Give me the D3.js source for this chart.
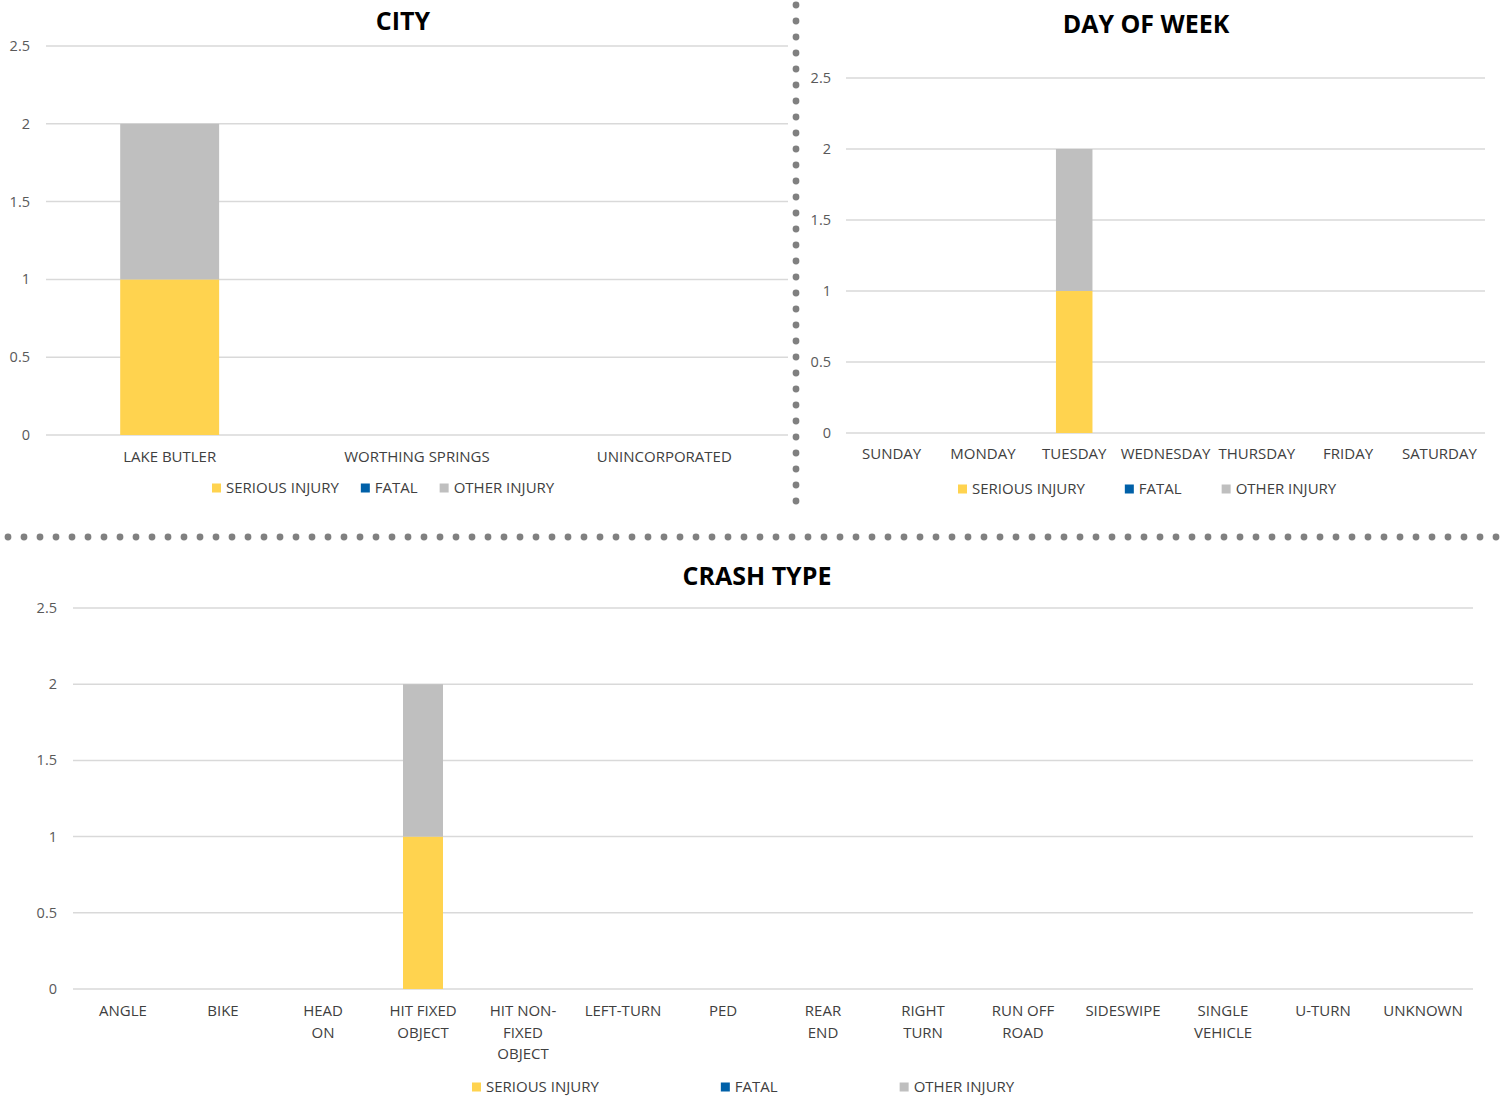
<!DOCTYPE html>
<html>
<head>
<meta charset="utf-8">
<script src="https://cdn.jsdelivr.net/npm/d3@7"></script>
<style>
  body { margin: 0; background: #fff; }
  svg text { font-family: "Open Sans", "Liberation Sans", sans-serif; }
</style>
</head>
<body>
<div id="my_dataviz"></div>
<script>
// series names + colours (stack order bottom -> top)
var seriesNames = ["SERIOUS INJURY", "FATAL", "OTHER INJURY"];
var seriesColors = ["#FFD34F", "#0060A8", "#BFBFBF"];
var yTicks = [0, 0.5, 1, 1.5, 2, 2.5];

// CITY
var cityCats = ["LAKE BUTLER", "WORTHING SPRINGS", "UNINCORPORATED"];
var citySerious = [1, 0, 0];
var cityFatal = [0, 0, 0];
var cityOther = [1, 0, 0];

// DAY OF WEEK
var dayCats = ["SUNDAY", "MONDAY", "TUESDAY", "WEDNESDAY", "THURSDAY", "FRIDAY", "SATURDAY"];
var daySerious = [0, 0, 1, 0, 0, 0, 0];
var dayFatal = [0, 0, 0, 0, 0, 0, 0];
var dayOther = [0, 0, 1, 0, 0, 0, 0];

// CRASH TYPE (\n = line break in label)
var crashCats = ["ANGLE", "BIKE", "HEAD\nON", "HIT FIXED\nOBJECT", "HIT NON-\nFIXED\nOBJECT", "LEFT-TURN", "PED",
  "REAR\nEND", "RIGHT\nTURN", "RUN OFF\nROAD", "SIDESWIPE", "SINGLE\nVEHICLE", "U-TURN", "UNKNOWN"];
var crashSerious = [0, 0, 0, 1, 0, 0, 0, 0, 0, 0, 0, 0, 0, 0];
var crashFatal = [0, 0, 0, 0, 0, 0, 0, 0, 0, 0, 0, 0, 0, 0];
var crashOther = [0, 0, 0, 1, 0, 0, 0, 0, 0, 0, 0, 0, 0, 0];

var svg = d3.select("#my_dataviz")
  .append("svg")
    .attr("width", 1500)
    .attr("height", 1099);

// dotted separators
var vDots = d3.range(5, 503, 16);
svg.selectAll(".vdot").data(vDots).enter().append("circle")
  .attr("cx", 796).attr("cy", function(d) { return d; })
  .attr("r", 3.4).attr("fill", "#808080");
var hDots = d3.range(8, 1500, 16);
svg.selectAll(".hdot").data(hDots).enter().append("circle")
  .attr("cx", function(d) { return d; }).attr("cy", 537)
  .attr("r", 3.4).attr("fill", "#808080");

function drawChart(cfg) {
  var g = svg.append("g");
  var data = cfg.cats.map(function(c, i) {
    return {cat: c, s0: cfg.series[0][i], s1: cfg.series[1][i], s2: cfg.series[2][i]};
  });
  var stack = d3.stack().keys(["s0", "s1", "s2"])(data);

  var xc = d3.scaleBand().domain(cfg.cats).range([cfg.left, cfg.right]);
  var y = d3.scaleLinear().domain([0, 2.5]).range([cfg.bottom, cfg.top]);

  // gridlines
  g.selectAll(".grid").data(yTicks).enter().append("line")
    .attr("x1", cfg.left).attr("x2", cfg.right)
    .attr("y1", function(d) { return y(d); }).attr("y2", function(d) { return y(d); })
    .attr("stroke", "#D9D9D9").attr("stroke-width", 1.5);

  // y tick labels
  g.selectAll(".ytick").data(yTicks).enter().append("text")
    .attr("x", cfg.ylabX).attr("y", function(d) { return y(d); })
    .attr("dy", "0.35em").attr("text-anchor", "end")
    .attr("font-size", 14.5).attr("fill", "#595959")
    .text(function(d) { return d; });

  // bars
  g.selectAll(".layer").data(stack).enter().append("g")
    .attr("fill", function(d, i) { return seriesColors[i]; })
    .selectAll("rect").data(function(d) { return d; }).enter().append("rect")
      .attr("x", function(d) { return xc(d.data.cat) + xc.bandwidth() * 0.3; })
      .attr("width", xc.bandwidth() * 0.4)
      .attr("y", function(d) { return y(d[1]); })
      .attr("height", function(d) { return y(d[0]) - y(d[1]); });

  // x labels
  var lab = g.selectAll(".xlab").data(cfg.cats).enter().append("text")
    .attr("text-anchor", "middle")
    .attr("font-size", 15).attr("fill", "#404040")
    .attr("transform", function(d) { return "translate(" + (xc(d) + xc.bandwidth() / 2) + "," + cfg.xlabY + ")"; });
  lab.selectAll("tspan").data(function(d) { return d.split("\n"); }).enter().append("tspan")
    .attr("x", 0).attr("y", function(d, i) { return i * 21.5; })
    .text(function(d) { return d; });

  // title
  g.append("text")
    .attr("x", cfg.titleX).attr("y", cfg.titleY)
    .attr("text-anchor", "middle")
    .attr("font-size", 25).attr("font-weight", "bold").attr("fill", "#000")
    .text(cfg.title);

  // legend
  var lx = cfg.legendX;
  seriesNames.forEach(function(name, i) {
    g.append("rect")
      .attr("x", lx).attr("y", cfg.legendY - 4.5)
      .attr("width", 9).attr("height", 9)
      .attr("fill", seriesColors[i]);
    var t = g.append("text")
      .attr("x", lx + 14).attr("y", cfg.legendY)
      .attr("dy", "0.35em")
      .attr("font-size", 15).attr("fill", "#404040")
      .text(name);
    lx += 14 + t.node().getComputedTextLength() + cfg.legendGap;
  });
}

drawChart({
  title: "CITY", cats: cityCats, series: [citySerious, cityFatal, cityOther],
  left: 46, right: 788, top: 46, bottom: 435, ylabX: 30, xlabY: 462,
  titleX: 403, titleY: 30, legendX: 212, legendY: 488, legendGap: 22
});

drawChart({
  title: "DAY OF WEEK", cats: dayCats, series: [daySerious, dayFatal, dayOther],
  left: 846, right: 1485, top: 78, bottom: 433, ylabX: 831, xlabY: 459,
  titleX: 1146, titleY: 33, legendX: 958, legendY: 489, legendGap: 40
});

drawChart({
  title: "CRASH TYPE", cats: crashCats, series: [crashSerious, crashFatal, crashOther],
  left: 73, right: 1473, top: 608, bottom: 989, ylabX: 57, xlabY: 1016,
  titleX: 757, titleY: 585, legendX: 472, legendY: 1087, legendGap: 122
});
</script>
</body>
</html>
